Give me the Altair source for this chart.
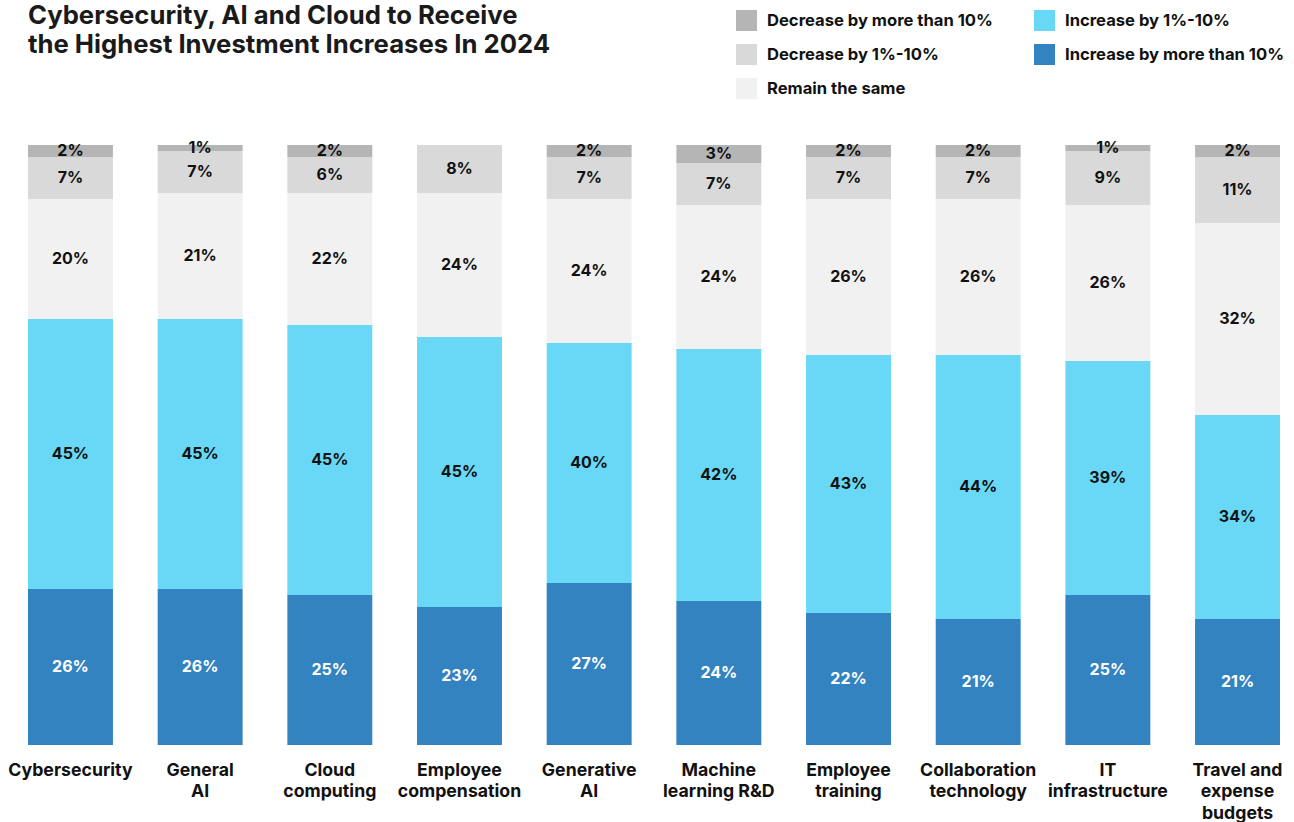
import altair as alt
import pandas as pd

categories = [
    "Cybersecurity", "General|AI", "Cloud|computing", "Employee|compensation",
    "Generative|AI", "Machine|learning R&D", "Employee|training",
    "Collaboration|technology", "IT|infrastructure", "Travel and|expense|budgets",
]
inc_more_10 = [26, 26, 25, 23, 27, 24, 22, 21, 25, 21]
inc_1_10 = [45, 45, 45, 45, 40, 42, 43, 44, 39, 34]
remain = [20, 21, 22, 24, 24, 24, 26, 26, 26, 32]
dec_1_10 = [7, 7, 6, 8, 7, 7, 7, 7, 9, 11]
dec_more_10 = [2, 1, 2, 0, 2, 3, 2, 2, 1, 2]

series_names = [
    "Increase by more than 10%", "Increase by 1%-10%", "Remain the same",
    "Decrease by 1%-10%", "Decrease by more than 10%",
]
series_values = [inc_more_10, inc_1_10, remain, dec_1_10, dec_more_10]
series_colors = {
    "Decrease by more than 10%": "#b5b5b5",
    "Decrease by 1%-10%": "#d9d9d9",
    "Remain the same": "#f1f1f1",
    "Increase by 1%-10%": "#68d8f6",
    "Increase by more than 10%": "#3383c1",
}
legend_order = [
    "Decrease by more than 10%", "Decrease by 1%-10%", "Remain the same",
    "Increase by 1%-10%", "Increase by more than 10%",
]

rows = []
for si, (name, vals) in enumerate(zip(series_names, series_values)):
    for cat, v in zip(categories, vals):
        if v > 0:
            rows.append({"category": cat, "series": name, "value": v, "order": si,
                         "label": f"{v}%",
                         "tcolor": "#ffffff" if si == 0 else "#111111"})
df = pd.DataFrame(rows)

FONT = "Inter"

base = alt.Chart(df).transform_stack(
    stack="value", groupby=["category"], as_=["y0", "y1"],
    sort=[alt.SortField("order", order="ascending")],
).transform_calculate(mid="(datum.y0 + datum.y1) / 2")

x_enc = alt.X(
    "category:N", sort=categories, title=None,
    scale=alt.Scale(paddingInner=0.345, paddingOuter=0),
    axis=alt.Axis(domain=False, ticks=False, labelAngle=0,
                  labelExpr="split(datum.label, '|')",
                  labelFont=FONT, labelFontSize=17.7, labelFontWeight="bold",
                  labelColor="#111111", labelLineHeight=21.5, labelPadding=16,
                  labelBaseline="top"),
)

bars = base.mark_bar().encode(
    x=x_enc,
    y=alt.Y("y0:Q", scale=alt.Scale(domain=[0, 100], nice=False), axis=None),
    y2="y1:Q",
    color=alt.Color(
        "series:N",
        scale=alt.Scale(domain=legend_order,
                        range=[series_colors[s] for s in legend_order]),
        legend=alt.Legend(
            title=None, orient="none", legendX=708, legendY=-135, columns=2,
            direction="vertical", symbolType="square", symbolSize=441,
            symbolStrokeWidth=0, symbolOpacity=1, labelFont=FONT,
            labelFontSize=16.6, labelFontWeight="bold", labelColor="#111111",
            labelOffset=10, labelLimit=0, rowPadding=13, columnPadding=41,
            padding=0,
        ),
    ),
)

texts = base.mark_text(font=FONT, fontSize=16, fontWeight="bold",
                       baseline="middle").encode(
    x=alt.X("category:N", sort=categories),
    y=alt.Y("mid:Q"),
    text="label:N",
    color=alt.Color("tcolor:N", scale=None),
)

chart = alt.layer(bars, texts).properties(
    width=1252, height=600,
    autosize=alt.AutoSizeParams(type="none"),
    padding={"left": 28, "top": 145, "right": 14, "bottom": 77},
    title=alt.Title(
        ["Cybersecurity, AI and Cloud to Receive",
         "the Highest Investment Increases In 2024"],
        anchor="start", frame="group", font=FONT, fontSize=25.7,
        fontWeight="bold", lineHeight=29, color="#1a1a1a", offset=-49,
    ),
).configure_view(stroke=None)

chart.save("out.html", embed_options={"renderer": "svg", "actions": False})
